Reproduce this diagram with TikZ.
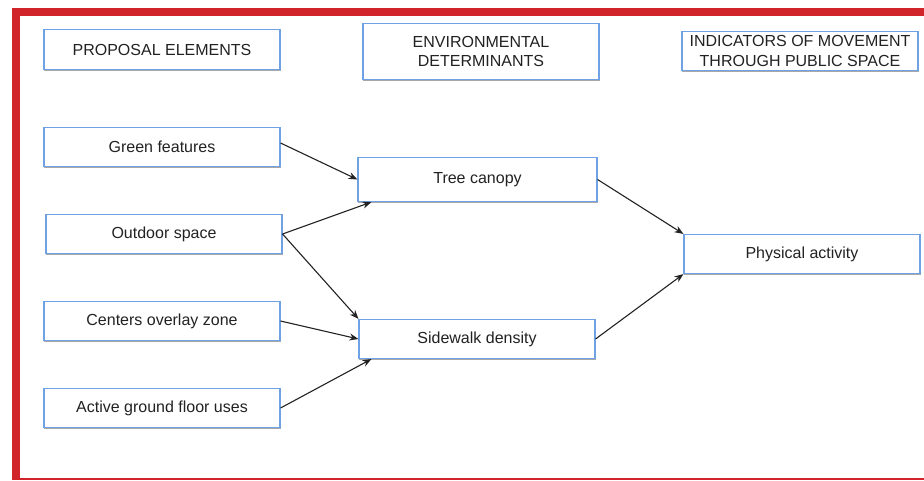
\documentclass[tikz,border=0pt]{standalone}
\usepackage{fontspec}
\setmainfont{Liberation Sans}
\usetikzlibrary{arrows.meta,calc}
\definecolor{frame}{HTML}{D0232A}
\definecolor{boxblue}{HTML}{6FA2E4}
\definecolor{boxgrey}{HTML}{A8A8A8}
\definecolor{txt}{HTML}{222222}
\tikzset{
  box/.style={draw=boxblue, line width=1.1pt, fill=white, inner sep=0pt,
    align=center, text=txt, font=\fontsize{16}{19}\selectfont,
    minimum height=39pt, minimum width=236pt,
    preaction={draw=boxgrey, line width=1.1pt, transform canvas={xshift=0.7pt,yshift=-0.7pt}}},
  conn/.style={draw=txt, line width=1.1pt, -{Stealth[length=9pt,width=7pt]}},
}
\begin{document}
\begin{tikzpicture}[x=1pt,y=-1pt]
\useasboundingbox (0,0) rectangle (924,480);
% red frame
\fill[frame] (12,8) rectangle (924,16);
\fill[frame] (12,8) rectangle (20,480);
\fill[frame] (12,478) rectangle (924,480);
% headers
\node[box, minimum height=40pt] (hprop) at (162,49.5) {PROPOSAL ELEMENTS};
\node[box, minimum height=56pt] (henv) at (481,51.5) {ENVIRONMENTAL\\DETERMINANTS};
\node[box, minimum height=39pt, font=\fontsize{16}{20}\selectfont] (hind) at (800,51) {INDICATORS OF MOVEMENT\\THROUGH PUBLIC SPACE};
% left column
\node[box] (green) at (162,147) {Green features};
\node[box] (outdoor) at (164,234) {Outdoor space};
\node[box] (centers) at (162,321) {Centers overlay zone};
\node[box] (active) at (162,408) {Active ground floor uses};
% middle
\node[box, minimum width=239pt, minimum height=44pt] (tree) at (477.5,179.5) {Tree canopy};
\node[box, minimum height=39pt] (side) at (477,339) {Sidewalk density};
% right
\node[box] (phys) at (802,254) {Physical activity};
% connectors
\draw[conn] ($(green.east)+(0,-4)$) -- (tree.west);
\draw[conn] (outdoor.east) -- ($(tree.south west)+(14,0)$);
\draw[conn] (outdoor.east) -- (side.north west);
\draw[conn] (centers.east) -- (side.west);
\draw[conn] (active.east) -- ($(side.south west)+(13,0)$);
\draw[conn] (tree.east) -- (phys.north west);
\draw[conn] (side.east) -- (phys.south west);
\end{tikzpicture}
\end{document}
